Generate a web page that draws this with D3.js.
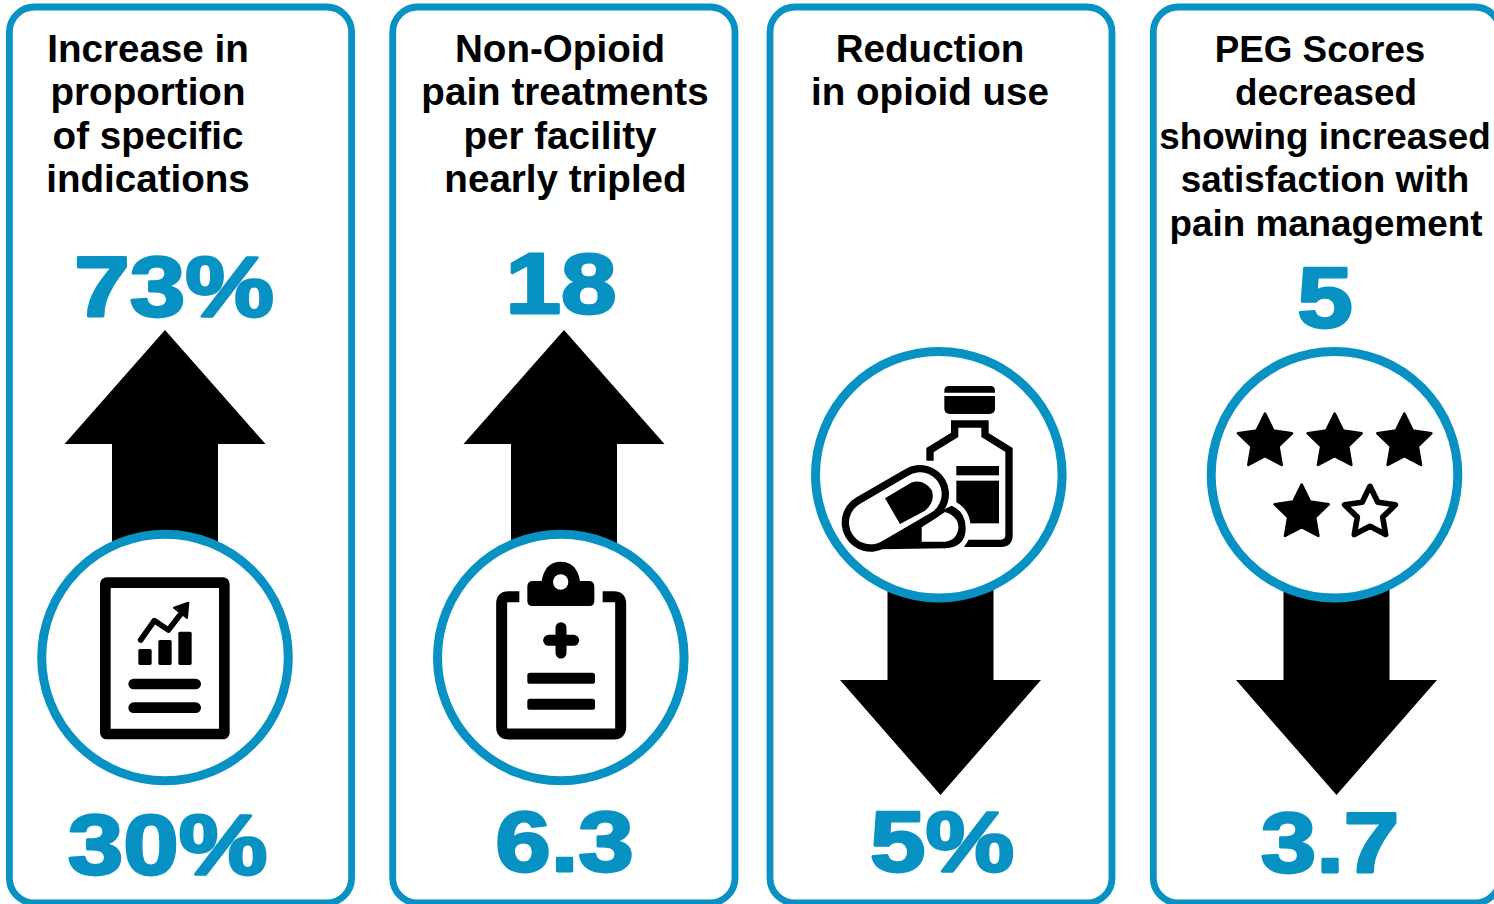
<!DOCTYPE html>
<html><head><meta charset="utf-8">
<script src="https://cdn.jsdelivr.net/npm/d3@7"></script>
<style>html,body{margin:0;background:#fff;overflow:hidden}svg{display:block}</style>
</head><body><svg id="c" width="1494" height="904"></svg>
<script>
const BLUE = "#0792c3";
const titles = [
  ["Increase in","proportion","of specific","indications"],
  ["Non-Opioid","pain treatments","per facility","nearly tripled"],
  ["Reduction","in opioid use"],
  ["PEG Scores","decreased","showing increased","satisfaction with","pain management"]
];
const titleCenters = [
  [148,148,148,148],
  [560,565,560,565.5],
  [930,930],
  [1320,1326,1325,1325,1326]
];
const titleSizes = [38.6,38.6,38.6,36.8];
const topValues = ["73%","18","","5"];
const topCenters = [174,561,0,1325];
const topBaselines = [315.5,312.5,0,326.5];
const bottomValues = ["30%","6.3","5%","3.7"];
const bottomCenters = [167.5,564.5,942,1330];
const bottomBaselines = [873.5,870.5,870.5,871.5];
const directions = ["up","up","down","down"];
const panelLeft = [9.4,392.7,770,1153.3];
const panelRight = [351.6,735,1112,1500];
const arrowCenter = [165,564,940.5,1336.5];
const circleX = [165,560.8,938.8,1334.5];
const circleY = [657.5,657.5,474.7,474.7];
// each icon is drawn in a 3x design space anchored at these page positions
const iconOrigin = [[30,520],[425,520],[805,340],[1200,340]];

const svg = d3.select("#c");
const panels = svg.selectAll("g.panel").data(titles).join("g").attr("class","panel");

panels.append("rect")
  .attr("x",(d,i)=>panelLeft[i]).attr("y",7)
  .attr("width",(d,i)=>panelRight[i]-panelLeft[i]).attr("height",896)
  .attr("rx",25).attr("fill","none").attr("stroke",BLUE).attr("stroke-width",6.8);

panels.each(function(lines,i){
  const g = d3.select(this);
  const cx = arrowCenter[i];
  // block arrow, sits beneath the icon circle
  const up = directions[i]==="up";
  const tip = up?330:795, head = up?444:680, tail = up?560:580;
  g.append("path").attr("fill","#000").attr("d",d3.line()([
    [cx,tip],[cx+100.5,head],[cx+53,head],[cx+53,tail],[cx-53,tail],[cx-53,head],[cx-100.5,head]
  ])+"Z");
  // heading
  g.append("text").attr("text-anchor","middle")
    .style("font",`700 ${titleSizes[i]}px "Liberation Sans",Arial,sans-serif`)
    .selectAll("tspan").data(lines).join("tspan")
    .attr("x",(d,k)=>titleCenters[i][k]).attr("y",(d,k)=>61.5+k*43.6).text(d=>d);
  // before and after figures, widened and thickened to a black weight
  const big = (text,x,y)=>g.append("text")
    .attr("transform",`translate(${x},${y}) scale(1.16,1)`)
    .attr("text-anchor","middle").attr("fill",BLUE).attr("stroke",BLUE).attr("stroke-width",2.8)
    .attr("stroke-linejoin","round")
    .style("font",'700 86px "Liberation Sans",Arial,sans-serif').text(text);
  if(topValues[i]) big(topValues[i],topCenters[i],topBaselines[i]);
  big(bottomValues[i],bottomCenters[i],bottomBaselines[i]);
});

svg.selectAll("circle.ring").data(circleX).join("circle").attr("class","ring")
  .attr("cx",d=>d).attr("cy",(d,i)=>circleY[i]).attr("r",123.3)
  .attr("fill","#fff").attr("stroke",BLUE).attr("stroke-width",9);

const icons = svg.selectAll("g.icon").data(iconOrigin).join("g").attr("class","icon")
  .attr("transform",d=>`translate(${d[0]},${d[1]}) scale(${1/3})`);
const icon = i=>d3.select(icons.nodes()[i]);
const bar = (g,x1,y1,x2,y2,w)=>g.append("line").attr("x1",x1).attr("x2",x2).attr("y1",y1).attr("y2",y2)
  .attr("stroke","#000").attr("stroke-width",w).attr("stroke-linecap","round");

// report sheet with rising bars
const report = icon(0);
report.append("rect").attr("x",226).attr("y",188).attr("width",357).attr("height",454).attr("rx",4)
  .attr("fill","none").attr("stroke","#000").attr("stroke-width",32);
[[325,387],[385,360],[445,335]].forEach(b=>report.append("rect")
  .attr("x",b[0]).attr("y",b[1]).attr("width",40).attr("height",435-b[1]).attr("rx",5));
report.append("path").attr("fill","none").attr("stroke","#000").attr("stroke-width",17)
  .attr("stroke-linecap","round").attr("stroke-linejoin","round")
  .attr("d","M332,360L373,302L415,330L450,285");
report.append("path").attr("stroke","#000").attr("stroke-width",6).attr("stroke-linejoin","round")
  .attr("d","M475,248L432,263L471,294Z");
[492,563].forEach(y=>bar(report,311,y,497,y,32));

// clipboard with a medical cross
const clip = icon(1);
clip.append("path").attr("fill","none").attr("stroke","#000").attr("stroke-width",33)
  .attr("d","M283,230H250Q230,230 230,250V622Q230,642 250,642H567Q587,642 587,622V250Q587,230 567,230H533");
clip.append("path").attr("d","M307,200Q307,183 324,183H350Q360,125 407,125Q455,125 465,183H491Q508,183 508,200V243Q508,258 493,258H322Q307,258 307,243Z");
clip.append("circle").attr("cx",407).attr("cy",186).attr("r",23).attr("fill","#fff");
bar(clip,408,323,408,399,33);
bar(clip,371,361,446,361,33);
[475,553].forEach(y=>clip.append("rect").attr("x",307).attr("y",y-16.5).attr("width",203).attr("height",33).attr("rx",8));

// bottle with two capsules in front of it
const pills = icon(2);
pills.append("path").attr("d","M418,158V152Q418,138 432,138H556Q570,138 570,152V158Z");
pills.append("path").attr("d","M418,168H570V205Q570,222 553,222H435Q418,222 418,205Z");
pills.append("path").attr("fill","none").attr("stroke","#000").attr("stroke-width",22)
  .attr("d","M375,362V330L449,285V252H540V285L612,330V585Q612,610 587,610H478");
pills.append("rect").attr("x",454).attr("y",378).attr("width",128).attr("height",28);
pills.append("rect").attr("x",454).attr("y",422).attr("width",128).attr("height",128);
const capsule = (stroke,w)=>pills.append("line").attr("x1",197).attr("y1",548).attr("x2",345).attr("y2",462)
  .attr("stroke",stroke).attr("stroke-width",w).attr("stroke-linecap","round");
capsule("#fff",204);
const rearCapsule = "M230,628L420,625Q482,622 482,565Q482,515 440,497L230,600Z";
pills.append("path").attr("stroke","#fff").attr("stroke-width",30).attr("stroke-linejoin","round").attr("d",rearCapsule);
pills.append("path").attr("d",rearCapsule);
pills.append("path").attr("fill","#fff").attr("d","M350,562L420,516Q462,530 460,565Q455,602 420,605L350,605Z");
capsule("#000",174);
capsule("#fff",130);
pills.append("path").attr("d","M240,475L318,428Q355,415 380,450Q392,485 360,512L285,552Z");

// five star rating, the last one hollow
const stars = icon(3);
const starPoints = r=>d3.range(10).map(k=>{
  const a = k*Math.PI/5, q = k%2?r*0.5:r;
  return [q*Math.sin(a),-q*Math.cos(a)];
});
const starLine = d3.line().curve(d3.curveLinearClosed);
const ratingX = [195,404,613,305,510];
const ratingY = [306,306,306,519,519];
const ratingFilled = [1,1,1,1,0];
stars.selectAll("path").data(ratingX).join("path")
  .attr("transform",(d,i)=>`translate(${d},${ratingY[i]})`)
  .attr("d",(d,i)=>starLine(starPoints(ratingFilled[i]?85:80)))
  .attr("fill",(d,i)=>ratingFilled[i]?"#000":"#fff").attr("stroke","#000")
  .attr("stroke-width",(d,i)=>ratingFilled[i]?8:17).attr("stroke-linejoin","round");
</script></body></html>
